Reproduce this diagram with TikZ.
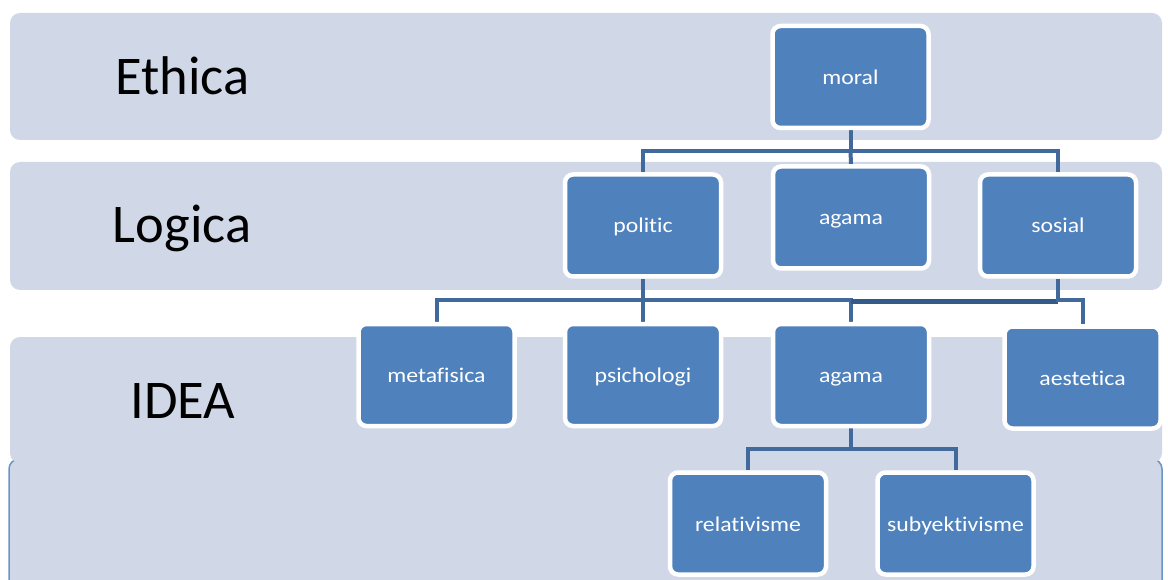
\documentclass[tikz,border=0pt]{standalone}
\usepackage{graphicx}
\usepackage{fontspec}
\setmainfont{Carlito}[Ligatures=NoCommon]
\pgfdeclarelayer{bands}
\pgfdeclarelayer{links}
\pgfsetlayers{bands,links,main}
\definecolor{bandfill}{HTML}{D0D8E8}
\definecolor{boxfill}{HTML}{4F81BD}
\definecolor{linkcol}{HTML}{41699C}
\definecolor{linkdark}{HTML}{345A8A}
\newcommand\widetext[1]{\scalebox{1.13}[1]{#1}}
\tikzset{
  band/.style={fill=bandfill, draw=none, rounded corners=10pt},
  lvl/.style={font=\fontsize{54.5}{60}\selectfont, text=black, anchor=base},
  box/.style={rectangle, rounded corners=8pt, fill=boxfill, draw=white,
    line width=4.5pt, minimum width=156pt, minimum height=102pt,
    text=white, font=\fontsize{21}{25}\selectfont, inner sep=0pt,
    text height=19pt, text depth=4pt},
  link/.style={draw=linkcol, line width=4pt},
  linkstrong/.style={draw=linkdark, line width=5pt}
}
\begin{document}
\begin{tikzpicture}[x=1pt,y=-1pt]
\clip (0,0) rectangle (1168,580);

% level bands
\begin{pgfonlayer}{bands}
  \path[band, draw=boxfill!85!white, line width=1.5pt] (9,459) rectangle (1162,600);
  \path[band] (10,13) rectangle (1162,140);
  \path[band] (10,162) rectangle (1162,290);
  \path[band] (10,337) rectangle (1162,463);
\end{pgfonlayer}

% level titles
\node[lvl] (ethica) at (182.5,95) {Ethica};
\node[lvl] (logica) at (182,243) {Logica};
\node[lvl] (idea) at (183,418) {IDEA};

% concept boxes
\node[box] (moral) at (850.5,77) {\widetext{moral}};
\node[box] (politic) at (643,225.5) {\widetext{politic}};
\node[box] (agamaA) at (851,217.5) {\widetext{agama}};
\node[box] (sosial) at (1058,225.5) {\widetext{sosial}};
\node[box] (metafisica) at (436.5,375) {\widetext{metafisica}};
\node[box] (psichologi) at (643,375) {\widetext{psichologi}};
\node[box] (agamaB) at (851,375) {\widetext{agama}};
\node[box] (aestetica) at (1082.5,377.5) {\widetext{aestetica}};
\node[box] (relativisme) at (748,523.5) {\widetext{relativisme}};
\node[box] (subyektivisme) at (955.5,523.5) {\widetext{subyektivisme}};

% branch heights
\coordinate (h1) at (0,151);
\coordinate (h2) at (0,300);
\coordinate (h2b) at (0,302);
\coordinate (h3) at (0,449);

% connectors
\begin{pgfonlayer}{links}
  \draw[link] (moral.south) -- (moral.south |- h1) -| (politic.north);
  \draw[link] (moral.south |- h1) -| (sosial.north);
  \draw[link] (moral.south |- h1) -- (agamaA.north);
  \draw[link] (politic.south) -- (psichologi.north);
  \draw[link] (metafisica.north) |- (agamaB.north |- h2) -- (agamaB.north);
  \draw[linkstrong] (agamaB.north |- h2b) -- (sosial.south |- h2b);
  \draw[link] (sosial.south) -- (sosial.south |- h2b);
  \draw[link] (sosial.south |- h2) -| (aestetica.north);
  \draw[link] (agamaB.south) -- (agamaB.south |- h3) -| (relativisme.north);
  \draw[link] (agamaB.south |- h3) -| (subyektivisme.north);
\end{pgfonlayer}
\end{tikzpicture}
\end{document}
